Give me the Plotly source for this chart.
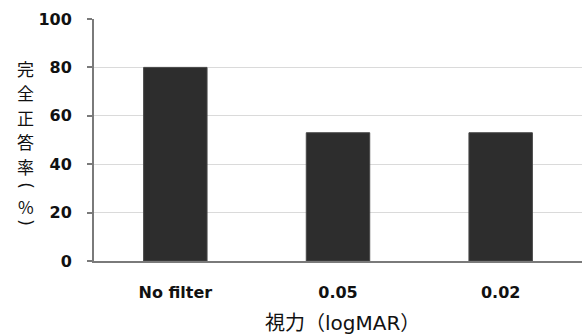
import plotly.graph_objects as go

categories = ["No filter", "0.05", "0.02"]
values = [80, 53, 53]
y_ticks = [0, 20, 40, 60, 80, 100]
y_title_chars = ["完", "全", "正", "答", "率", "(", "%", ")"]
x_title = "視力（logMAR）"

fig = go.Figure()
fig.add_trace(go.Bar(
    x=categories, y=values, width=0.39,
    marker=dict(color="#2d2d2d", line=dict(color="#474747", width=1)),
))

# vertical (tategaki) y-axis title: one character per annotation,
# parentheses rotated as in vertical writing
PLOT_L, PLOT_W, PLOT_T, PLOT_H = 93.5, 489.0, 19.0, 242.0
TITLE_Y_PX = [68, 92.5, 117, 141.5, 166, 186, 206, 223]  # layout positions (px)

def px_x(x):
    return (x - PLOT_L) / PLOT_W

def px_y(y):
    return (PLOT_T + PLOT_H - y) / PLOT_H

annotations = []
for ch, ypx in zip(y_title_chars, TITLE_Y_PX):
    is_paren = ch in "()"
    annotations.append(dict(
        text=ch, xref="paper", yref="paper",
        x=px_x(25), y=px_y(ypx),
        xanchor="center", yanchor="middle", showarrow=False,
        textangle=90 if is_paren else 0,
        font=dict(size=17, family="DejaVu Sans" if is_paren else "Noto Sans CJK JP",
                  color="#111"),
    ))

annotations.append(dict(
    text=x_title, xref="paper", yref="paper",
    x=px_x(343), y=px_y(323), xanchor="center", yanchor="middle",
    showarrow=False,
    font=dict(size=20, family="DejaVu Sans, Noto Sans CJK JP", color="#111"),
))

fig.update_layout(
    width=587, height=336,
    margin=dict(l=93.5, r=4.5, t=19, b=75, autoexpand=False),
    paper_bgcolor="white", plot_bgcolor="white",
    showlegend=False,
    font=dict(family="DejaVu Sans, Noto Sans CJK JP, sans-serif", color="#111"),
    xaxis=dict(
        showline=True, linecolor="#7a7a7a", linewidth=2, automargin=False,
        ticks="", tickfont=dict(size=16, family="DejaVu Sans", weight="bold"),
        ticklabelstandoff=16,
    ),
    yaxis=dict(
        range=[0, 100], tickvals=y_ticks, automargin=False,
        showline=True, linecolor="#7a7a7a", linewidth=2,
        ticks="outside", ticklen=5, tickcolor="#7a7a7a", tickwidth=1.5,
        showgrid=True, gridcolor="#dadada", gridwidth=1,
        tickfont=dict(size=16, family="DejaVu Sans", weight="bold"),
        ticklabelstandoff=12, zeroline=False,
    ),
    annotations=annotations,
)

fig.write_html("out.html", config={"displayModeBar": False},
               post_script="document.body.style.margin='0';")
